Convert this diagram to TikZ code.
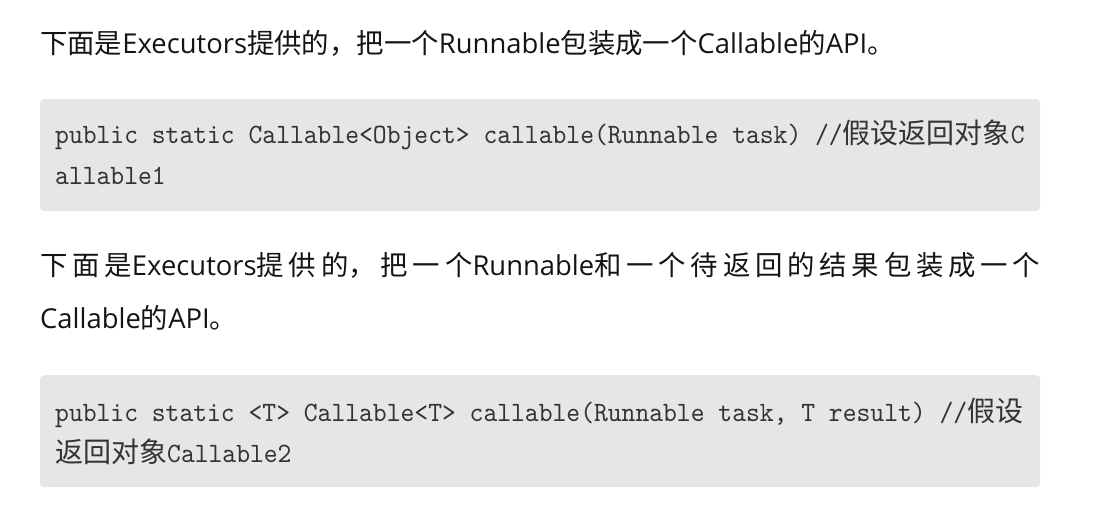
\documentclass[tikz,border=0pt]{standalone}
\usepackage{fontspec}
\usepackage{tikz}
\setmainfont{Open Sans}
\newfontfamily\cjk{Noto Sans CJK SC}
\newfontfamily\codefont{lmmono10-regular.otf}[FakeStretch=0.94]
\XeTeXlinebreaklocale "zh"
\XeTeXlinebreakskip = 0pt plus 6pt
\definecolor{boxgray}{HTML}{E6E6E6}
\definecolor{txtblack}{HTML}{141414}
\definecolor{codegray}{HTML}{333333}
\newcommand{\zh}[1]{{\cjk #1}}
\newcommand{\zhcode}[1]{{\cjk\fontsize{28}{41}\selectfont #1}}
\tikzset{
  txt/.style = {anchor=base west, inner sep=0pt, text=txtblack,
    font=\fontsize{27.4}{53.5}\selectfont},% body text
  cb/.style = {anchor=north west, fill=boxgray, rounded corners=4pt,
    minimum width=1000pt, minimum height=112pt, inner sep=0pt},% code box
  code/.style = {anchor=base west, inner sep=0pt, text=codegray,
    font=\codefont\fontsize{28}{41}\selectfont}% code line
}

\begin{document}
\begin{tikzpicture}[x=1pt,y=-1pt]
\useasboundingbox (0,0) rectangle (1112,505);
% first api
\node [txt] (intro1) at (40,53.3) {\zh{下面是}Executors\zh{提供的，把一个}Runnable\zh{包装成一个}Callable\zh{的}API\zh{。}};
\node [cb] (box1) at (40,99) {};
\node [code] (code1a) at (55,144) {public static Callable<Object> callable(Runnable task) //\zhcode{假设返回对象}C};
\node [code] (code1b) at (55,185) {allable1};
% second api
\node [txt, text width=1000pt, align=justify] (intro2) at (40,275.5)
  {\zh{下面是}Executors\zh{提供的，把一个}Runnable\zh{和一个待返回的结果包装成一个}\linebreak Callable\zh{的}API\zh{。}};
\node [cb] (box2) at (40,375) {};
\node [code] (code2a) at (55,421) {public static <T> Callable<T> callable(Runnable task, T result) //\zhcode{假设}};
\node [code] (code2b) at (55,462) {\zhcode{返回对象}Callable2};
\end{tikzpicture}
\end{document}
